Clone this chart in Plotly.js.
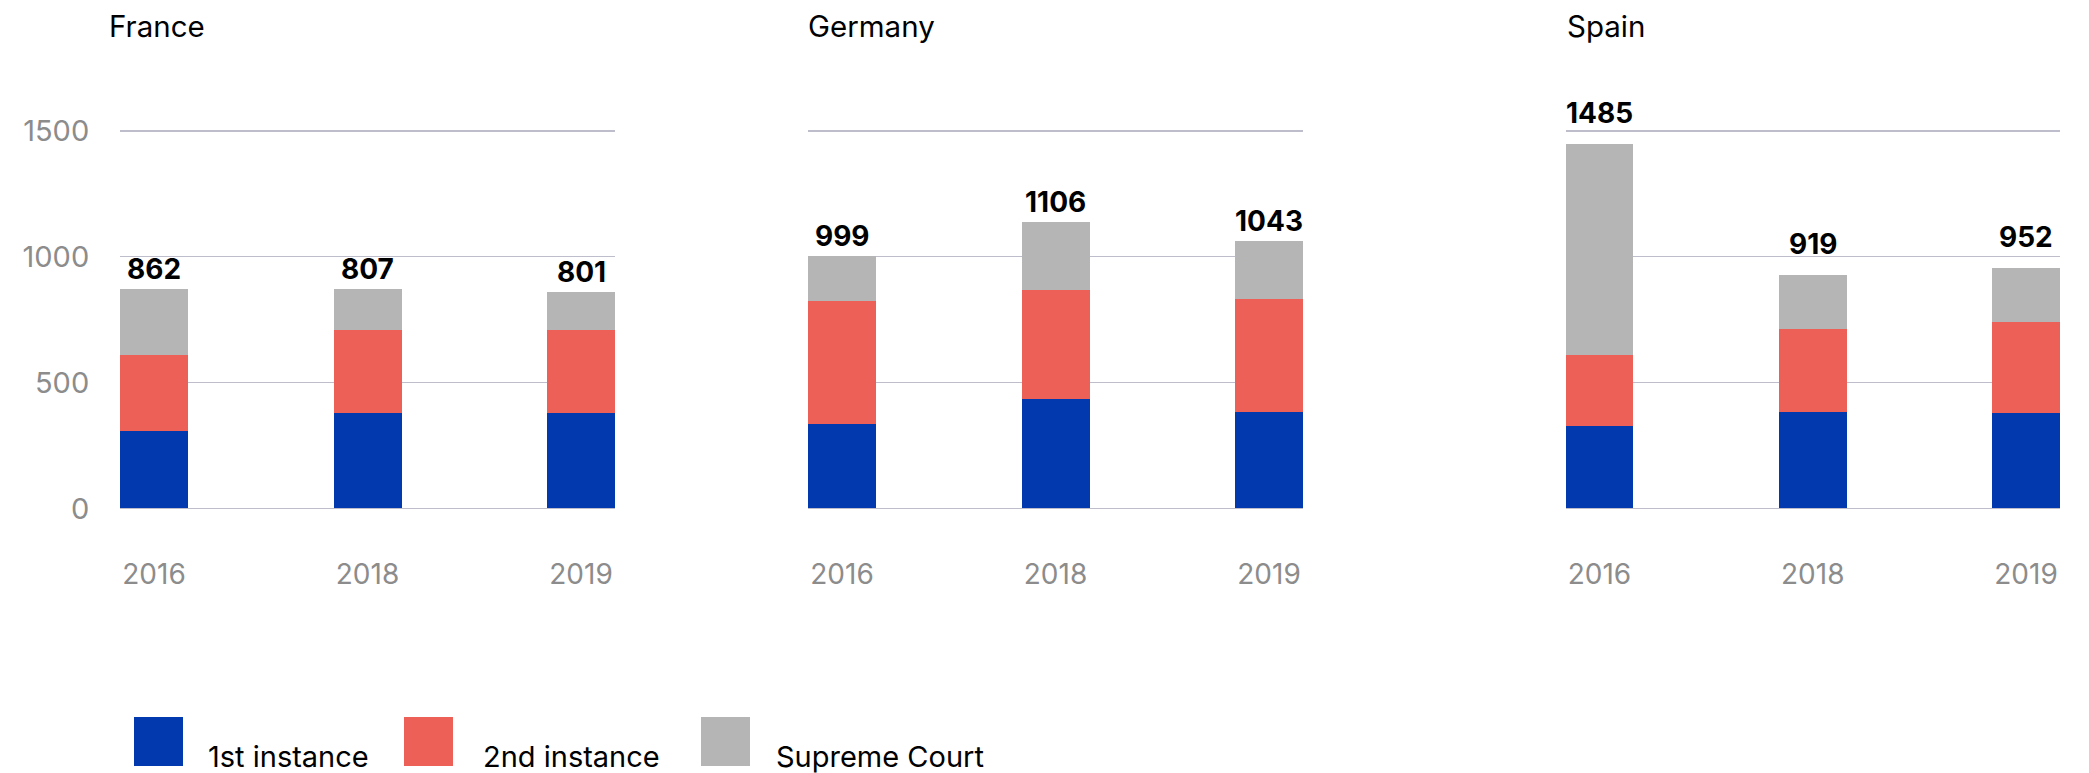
<!DOCTYPE html>
<html>
<head>
<meta charset="utf-8">
<script src="https://cdn.plot.ly/plotly-3.0.1.min.js"></script>
<style>
  html, body { margin: 0; padding: 0; background: #ffffff; }
  #chart { width: 2089px; height: 773px; }
</style>
</head>
<body>
<div id="chart"></div>
<script>
// ---- Data ----
const categories = ['2016', '2018', '2019'];
const countries = ['France', 'Germany', 'Spain'];
const seriesNames = ['1st instance', '2nd instance', 'Supreme Court'];
const yTickValues = [0, 500, 1000, 1500];

const franceFirst   = [308, 379, 379];
const franceSecond  = [302, 330, 330];
const franceSupreme = [262, 163, 151];
const franceTotals  = [862, 807, 801];

const germanyFirst   = [335, 435, 383];
const germanySecond  = [489, 432, 449];
const germanySupreme = [178, 270, 230];
const germanyTotals  = [999, 1106, 1043];

const spainFirst   = [328, 384, 380];
const spainSecond  = [282, 329, 361];
const spainSupreme = [839, 214, 214];
const spainTotals  = [1485, 919, 952];

// ---- Styling / layout ----
const W = 2089, H = 773;
const colors = ['#0339AE', '#EC6058', '#B5B5B5'];
const FONT = 'Inter, "Liberation Sans", Arial, sans-serif';
const gridColor = '#BDBDCB';

const panels = [
  { name: countries[0], series: [franceFirst, franceSecond, franceSupreme], totals: franceTotals, px: [120, 615], titleX: 107, labelShift: 1 },
  { name: countries[1], series: [germanyFirst, germanySecond, germanySupreme], totals: germanyTotals, px: [808, 1303], titleX: 806, labelShift: 1 },
  { name: countries[2], series: [spainFirst, spainSecond, spainSupreme], totals: spainTotals, px: [1565.5, 2060], titleX: 1565, labelShift: 12 }
];

const barWidth = 0.3185;
const yRange = [-4, 1622.3];
const yDomain = [(H - 509.5) / H, (H - 100) / H];

const data = [];
const layout = {
  width: W, height: H,
  margin: { l: 0, r: 0, t: 0, b: 0 },
  paper_bgcolor: '#ffffff',
  plot_bgcolor: '#ffffff',
  barmode: 'stack',
  showlegend: false,
  font: { family: FONT, color: '#000000' },
  annotations: [],
  shapes: []
};

panels.forEach((p, i) => {
  const xa = i === 0 ? 'x' : 'x' + (i + 1);
  const ya = i === 0 ? 'y' : 'y' + (i + 1);
  p.series.forEach((vals, k) => {
    data.push({
      type: 'bar',
      x: categories,
      y: vals,
      name: seriesNames[k],
      xaxis: xa,
      yaxis: ya,
      width: barWidth,
      marker: { color: colors[k], line: { width: 0 } },
      hoverinfo: 'x+y+name'
    });
  });
  const axKeyX = i === 0 ? 'xaxis' : 'xaxis' + (i + 1);
  const axKeyY = i === 0 ? 'yaxis' : 'yaxis' + (i + 1);
  layout[axKeyX] = {
    domain: [p.px[0] / W, p.px[1] / W],
    anchor: ya,
    type: 'category',
    range: [-barWidth / 2, categories.length - 1 + barWidth / 2],
    showgrid: false, zeroline: false, showline: false,
    ticks: 'outside', ticklen: 40, tickcolor: 'rgba(0,0,0,0)',
    tickfont: { family: FONT, size: 28, color: '#8C8C8C' },
    fixedrange: true
  };
  layout[axKeyY] = {
    domain: yDomain,
    anchor: xa,
    range: yRange,
    tickmode: 'array',
    tickvals: yTickValues,
    ticktext: yTickValues.map(String),
    showgrid: true, gridcolor: gridColor, gridwidth: 1.5,
    zeroline: true, zerolinecolor: gridColor, zerolinewidth: 1.5,
    showline: false,
    showticklabels: i === 0,
    ticks: i === 0 ? 'outside' : '',
    ticklen: 24, tickcolor: 'rgba(0,0,0,0)',
    tickfont: { family: FONT, size: 29, color: '#8C8C8C' },
    fixedrange: true
  };
  // panel title
  layout.annotations.push({
    xref: 'paper', yref: 'paper',
    x: p.titleX / W, y: 1 - 26 / H,
    xanchor: 'left', yanchor: 'middle',
    text: p.name, showarrow: false,
    font: { family: FONT, size: 29.5, color: '#000000' }
  });
  // total labels above each stack (category index on the category axis)
  categories.forEach((c, j) => {
    const stackTop = p.series.reduce((s, arr) => s + arr[j], 0);
    layout.annotations.push({
      xref: xa, yref: ya,
      x: j, y: stackTop,
      xanchor: 'center', yanchor: 'bottom', yshift: p.labelShift,
      text: '<b>' + p.totals[j] + '</b>', showarrow: false,
      font: { family: FONT, size: 28, color: '#000000' }
    });
  });
});

// ---- Legend (large square swatches) ----
const legendSwatchX = [134, 404, 701];
const legendTextX = [206, 481, 774];
seriesNames.forEach((n, k) => {
  layout.shapes.push({
    type: 'rect', xref: 'paper', yref: 'paper',
    x0: legendSwatchX[k] / W, x1: (legendSwatchX[k] + 49) / W,
    y0: 1 - 766 / H, y1: 1 - 717 / H,
    fillcolor: colors[k], line: { width: 0 }
  });
  layout.annotations.push({
    xref: 'paper', yref: 'paper',
    x: legendTextX[k] / W, y: 1 - 756 / H,
    xanchor: 'left', yanchor: 'middle',
    text: n, showarrow: false,
    font: { family: FONT, size: 29, color: '#000000' }
  });
});

Plotly.newPlot('chart', data, layout, { displayModeBar: false, staticPlot: true });
</script>
</body>
</html>
